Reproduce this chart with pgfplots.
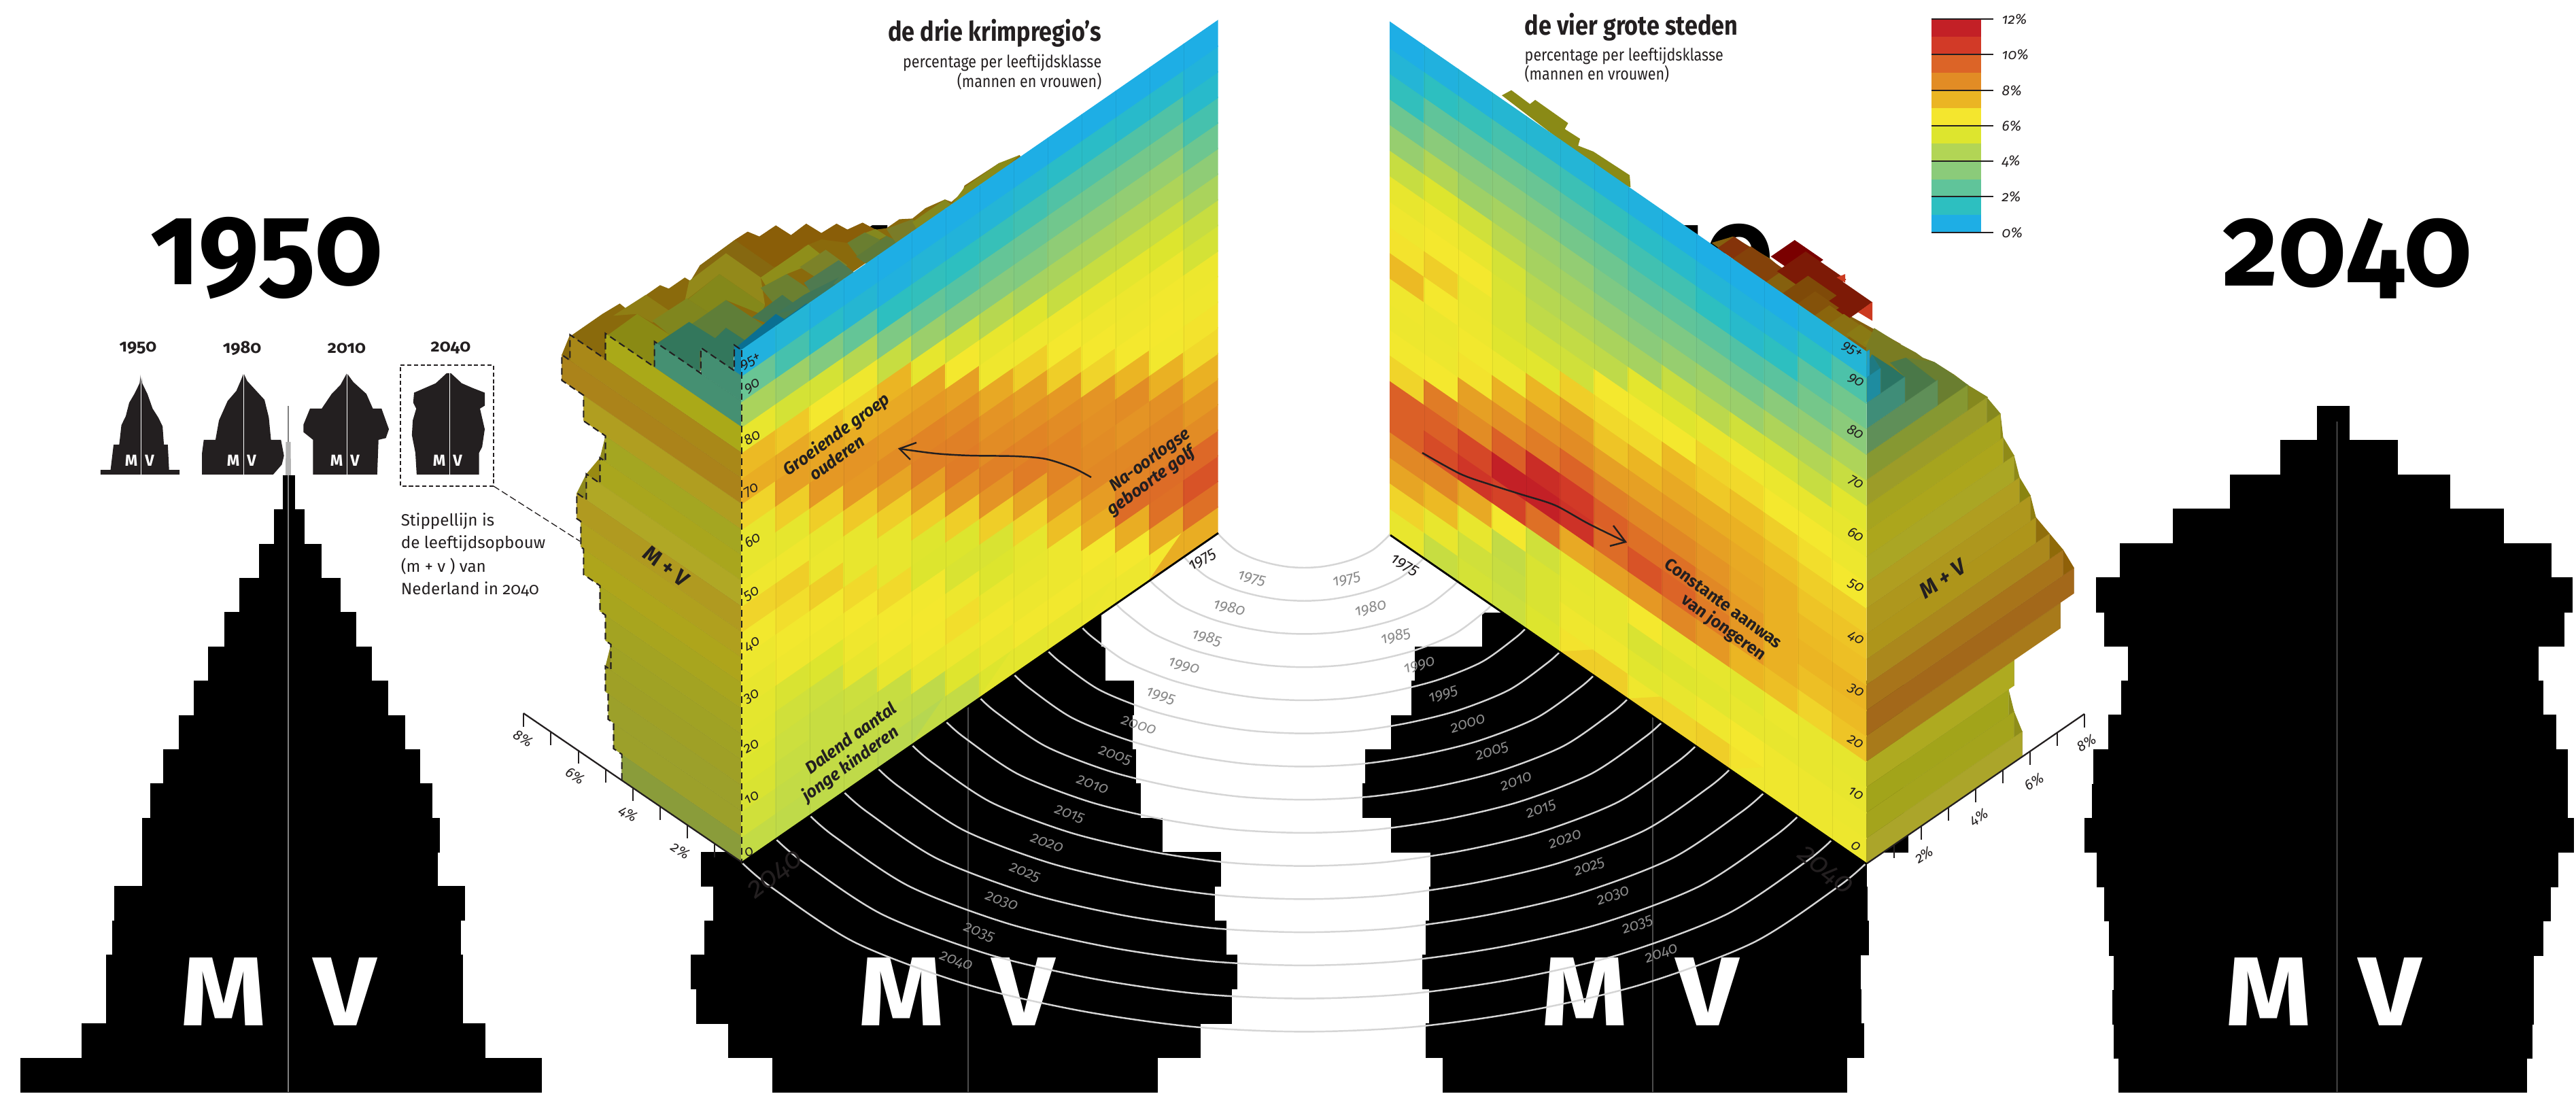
\documentclass[border=0pt]{standalone}
\usepackage{fontspec}
\setmainfont{Fira Sans}[Numbers=OldStyle]
\usepackage{pgfplots}
\usepackage{pgfplotstable}
\pgfplotsset{compat=1.18}
\definecolor{ink}{HTML}{231F20}
\definecolor{arcg}{HTML}{D5D5D5}
\definecolor{yrg}{HTML}{8A8A8A}
\newcommand\fs[1]{\fontsize{#1}{#1}\selectfont}
\pgfplotstableread{
t f
-1 0
-.95 .14
-.8 .47
-.6 .72
-.4 .875
-.2 .97
0 1
.2 .97
.4 .875
.6 .72
.8 .47
.95 .14
1 0
}\arcT
\newcommand\arcc[1]{\addplot[smooth,draw=arcg,line width=.65pt] table[x expr={1918.5+\thisrow{t}*(126.5+50*#1)},y expr={785+34.6*#1+(50+14.14*#1)*\thisrow{f}}]{\arcT};}
\newcommand\col[1]{\xglobal\definecolor{c#1}{HTML}{#1}}
\newcommand\pr[3]{\pgfmathsetmacro\yb{#1+\rh}\addplot[fill=black,draw=none] coordinates {(#2,#1)(#3,#1)(#3,\yb)(#2,\yb)};}
\def\rh{51.1}
% zoom-coordinate polygons
\newcommand\polyA[2]{\col{#1}\addplot[fill=c#1,draw=none] table[header=false,row sep=\\,x expr={800+\thisrowno{0}/1.568},y expr={\thisrowno{1}/1.96}]{#2};}
\newcommand\polyB[2]{\col{#1}\addplot[fill=c#1,draw=none] table[header=false,row sep=\\,x expr={2000+\thisrowno{0}/1.4255},y expr={\thisrowno{1}/1.96}]{#2};}
\newcommand\polyC[2]{\col{#1}\addplot[fill=c#1,draw=none] table[header=false,row sep=\\,x expr={2740+\thisrowno{0}/3},y expr={480+\thisrowno{1}/2.063}]{#2};}
\newcommand\polyS[2]{\addplot[fill=#1,draw=none] table[header=false,row sep=\\,x expr={\thisrowno{0}/1.568},y expr={250+\thisrowno{1}/1.154}]{#2};}
\newcommand\diaB[5]{\col{#1}\pgfmathsetmacro\xa{2000+#2/1.4255}\pgfmathsetmacro\ya{#3/1.96}%
\pgfmathsetmacro\xb{2000+(#2+#5)/1.4255}\pgfmathsetmacro\yyb{(#3+.95*#5)/1.96}%
\pgfmathsetmacro\xc{2000+(#2+#5-#4)/1.4255}\pgfmathsetmacro\yc{(#3+.95*#5+.95*#4)/1.96}%
\pgfmathsetmacro\xd{2000+(#2-#4)/1.4255}\pgfmathsetmacro\yd{(#3+.95*#4)/1.96}%
\addplot[fill=c#1,draw=none] coordinates {(\xa,\ya)(\xb,\yyb)(\xc,\yc)(\xd,\yd)};}
% slab bands: row, length in %, colour
\newcommand\bandL[3]{\col{#3}\pgfmathsetmacro\xo{1091-40.1*#2}\pgfmathsetmacro\yb{1268-37.65*#1}\pgfmathsetmacro\yt{\yb-37.65}%
\pgfmathsetmacro\ybo{\yb-27.5*#2}\pgfmathsetmacro\yto{\yt-27.5*#2}%
\addplot[fill=c#3,draw=c#3!88!black,line width=.12pt] coordinates {(1091,\yb)(1091,\yt)(\xo,\yto)(\xo,\ybo)};}
\newcommand\bandR[3]{\col{#3}\pgfmathsetmacro\xo{2746+40.1*#2}\pgfmathsetmacro\yb{1270-37.65*#1}\pgfmathsetmacro\yt{\yb-37.65}%
\pgfmathsetmacro\ybo{\yb-27.5*#2}\pgfmathsetmacro\yto{\yt-27.5*#2}%
\addplot[fill=c#3,draw=c#3!88!black,line width=.12pt] coordinates {(2746,\yb)(2746,\yt)(\xo,\yto)(\xo,\ybo)};}
% step triangles: lower row r, its length, length of row above, colour
\newcommand\stepL[4]{\col{#4}\pgfmathsetmacro\xu{1091-40.1*#3}\pgfmathsetmacro\xo{1091-40.1*#2}\pgfmathsetmacro\yb{1268-37.65*(#1+1)}%
\pgfmathsetmacro\ya{\yb-27.5*#3}\pgfmathsetmacro\yyt{\ya-37.65}\pgfmathsetmacro\yo{\yb-27.5*#2}%
\addplot[fill=c#4,draw=none] coordinates {(\xu,\ya)(\xu,\yyt)(\xo,\yo)};}
\newcommand\stepR[4]{\col{#4}\pgfmathsetmacro\xu{2746+40.1*#3}\pgfmathsetmacro\xo{2746+40.1*#2}\pgfmathsetmacro\yb{1270-37.65*(#1+1)}%
\pgfmathsetmacro\ya{\yb-27.5*#3}\pgfmathsetmacro\yyt{\ya-37.65}\pgfmathsetmacro\yo{\yb-27.5*#2}%
\addplot[fill=c#4,draw=none] coordinates {(\xu,\ya)(\xu,\yyt)(\xo,\yo)};}
\newcommand\yl[4]{\node[rotate=#3,text=yrg,inner sep=0] at (axis cs:#1,#2) {\fs{6}\itshape #4};}
\newcommand\al[4]{\node[rotate=#3,text=ink,inner sep=0] at (axis cs:#1,#2) {\fs{5.6}\itshape #4};}
\newcommand\tk[2]{\pgfmathsetmacro\yy{#2+20}\addplot[draw=ink,line width=.45pt] coordinates {(#1,#2)(#1,\yy)};}
\newcommand\ann[5]{\node[rotate=#3,text=ink,inner sep=0,align=center] at (axis cs:#1,#2) {\fs{#4}#5};}
\newcommand\leg[2]{\col{#2}\pgfmathsetmacro\ya{28+26.2*#1}\pgfmathsetmacro\yy{\ya+26.2}\addplot[fill=c#2,draw=none] coordinates {(2841,\ya)(2914,\ya)(2914,\yy)(2841,\yy)};}
\newcommand\legt[2]{\addplot[draw=ink,line width=.3pt] coordinates {(2841,#1)(2932,#1)};\node[anchor=west,text=ink,inner sep=0] at (axis cs:2944,#1) {\fs{5.6}\itshape #2};}
\newcommand\ttl[2]{\node[inner sep=0,text=black] at (axis cs:#1,380) {\fs{45}\bfseries\scalebox{.93}[1]{#2}};}
\newcommand\mv[2]{\node[inner sep=0,text=white] at (axis cs:#1,1459) {\fs{38}\bfseries\scalebox{1.12}[1]{#2}};}
\newcommand\smv[2]{\node[inner sep=0,text=white] at (axis cs:#1,677) {\fs{6.2}\bfseries #2};}
\newcommand\sty[2]{\node[inner sep=0,text=ink] at (axis cs:#1,512) {\fs{6.7}\bfseries #2};}
\newcommand\stp[2]{\node[anchor=west,inner sep=0,text=ink] at (axis cs:589,#1) {\fs{6.4}#2};}
\newcommand\seam[2]{\pgfmathsetmacro\yy{#2-753}\addplot[draw=black,opacity=.07,line width=.2pt] coordinates {(#1,#2)(#1,\yy)};}
\begin{document}
\begin{tikzpicture}
\useasboundingbox (0,0) rectangle (1000pt,424.65pt);
\begin{axis}[at={(0,0)},anchor=south west,scale only axis,width=1000pt,height=424.65pt,
 xmin=0,xmax=3789,ymin=0,ymax=1609,y dir=reverse,hide axis,clip=false,no markers,
 point meta min=0,point meta max=12,
 colormap={krimp}{rgb255(0pt)=(30,174,229) rgb255(5pt)=(30,174,229) rgb255(15pt)=(45,191,192) rgb255(25pt)=(96,196,154) rgb255(35pt)=(139,203,122) rgb255(45pt)=(178,213,85) rgb255(55pt)=(221,229,46) rgb255(65pt)=(244,232,46) rgb255(75pt)=(235,181,35) rgb255(85pt)=(226,140,37) rgb255(95pt)=(220,100,39) rgb255(105pt)=(210,58,39) rgb255(115pt)=(195,32,38) rgb255(120pt)=(195,32,38)}]
% big year titles
\ttl{392}{1950}\ttl{1422}{1980}\ttl{2433}{2010}\ttl{3453}{2040}
% population pyramid 1950
\pr{699}{416}{434}\pr{749}{403}{448}\pr{800}{381}{473}\pr{850}{352}{501}\pr{900}{330}{524}\pr{951}{306}{547}\pr{1001}{285}{571}\pr{1052}{263}{596}\pr{1102}{240}{618}\pr{1152}{221}{636}\pr{1203}{209}{647}\pr{1253}{209}{644}\pr{1303}{168}{684}\pr{1354}{165}{678}\pr{1404}{156}{681}\pr{1455}{156}{681}\pr{1505}{120}{714}\pr{1555.6}{30}{797}
% pyramid 1980
\pr{1555.6}{1136}{1703}\pr{1505}{1071}{1766}\pr{1455}{1024}{1812}\pr{1404}{1016}{1820}\pr{1354}{1036}{1804}\pr{1304}{1049}{1787}\pr{1253}{1031}{1796}\pr{1203}{1100}{1710}\pr{1152}{1140}{1678}\pr{1102}{1180}{1671}\pr{1052}{1190}{1666}\pr{1001}{1200}{1668}\pr{951}{1220}{1626}\pr{901}{1230}{1620}
% pyramid 2010
\pr{1555.6}{2122}{2717}\pr{1505}{2097}{2742}\pr{1455}{2102}{2738}\pr{1404}{2092}{2737}\pr{1354}{2097}{2749}\pr{1304}{2102}{2747}\pr{1253}{2104}{2746}\pr{1203}{2046}{2807}\pr{1152}{2004}{2800}\pr{1102}{2008}{2800}\pr{1052}{2046}{2800}\pr{1001}{2076}{2800}\pr{951}{2081}{2700}\pr{901}{2180}{2700}
% pyramid 2040
\pr{597}{3408}{3456}\pr{647.5}{3354}{3527}\pr{698}{3280}{3604}\pr{748.5}{3196}{3683}\pr{799}{3118}{3753}\pr{849.5}{3083}{3784}\pr{900}{3095}{3772}\pr{950.5}{3130}{3734}\pr{1001}{3120}{3741}\pr{1051.5}{3101}{3760}\pr{1102}{3079}{3777}\pr{1152.5}{3077}{3777}\pr{1203}{3066}{3786}\pr{1253.5}{3084}{3763}\pr{1304}{3095}{3752}\pr{1354.5}{3102}{3741}\pr{1405}{3109}{3727}\pr{1455.5}{3107}{3727}\pr{1506}{3109}{3725}\pr{1556}{3116}{3717}
% pyramid centre lines
\addplot[draw=gray,line width=.4pt] coordinates {(424,597)(424,1606)};
\addplot[fill=gray!60,draw=none] coordinates {(420.5,650)(427.5,650)(428,699)(420,699)};
\addplot[draw=gray!60!black,line width=.4pt] coordinates {(1424,900)(1424,1606)};
\addplot[draw=gray!60!black,line width=.4pt] coordinates {(2431,900)(2431,1606)};
\addplot[draw=gray,line width=.4pt] coordinates {(3437.5,620)(3437.5,1606)};
% M V
\mv{329}{M}\mv{507}{V}\mv{1326}{M}\mv{1505}{V}\mv{2331}{M}\mv{2511}{V}\mv{3337}{M}\mv{3515}{V}
% arcs
\arcc{0}\arcc{1}\arcc{2}\arcc{3}\arcc{4}\arcc{5}\arcc{6}\arcc{7}\arcc{8}\arcc{9}\arcc{10}\arcc{11}\arcc{12}\arcc{13}\arcc{14}
\yl{1841}{851}{-13}{1975}\yl{1808}{894}{-14}{1980}\yl{1775}{938}{-15}{1985}\yl{1741}{980}{-16}{1990}\yl{1707}{1024}{-17}{1995}\yl{1675}{1067}{-18}{2000}\yl{1640}{1112}{-19}{2005}\yl{1607}{1154}{-20}{2010}\yl{1573}{1198}{-20}{2015}\yl{1540}{1240}{-20}{2020}\yl{1507}{1284}{-20}{2025}\yl{1473}{1326}{-20}{2030}\yl{1440}{1372}{-20}{2035}\yl{1406}{1414}{-20}{2040}
\yl{1981}{853}{13}{1975}\yl{2016}{895}{14}{1980}\yl{2053}{936}{15}{1985}\yl{2088}{979}{16}{1990}\yl{2123}{1022}{17}{1995}\yl{2159}{1064}{18}{2000}\yl{2195}{1106}{19}{2005}\yl{2230}{1149}{20}{2010}\yl{2267}{1191}{20}{2015}\yl{2302}{1234}{20}{2020}\yl{2338}{1276}{20}{2025}\yl{2373}{1318}{20}{2030}\yl{2409}{1361}{20}{2035}\yl{2444}{1403}{20}{2040}
\node[rotate=38,inner sep=0,text=ink] at (axis cs:1141,1287) {\fs{11}\itshape 2040};
\node[rotate=-38,inner sep=0,text=ink] at (axis cs:2684,1281) {\fs{11}\itshape 2040};
% left tops behind the face
\polyA{8A6A0C}{60 970\\135 905\\175 875\\190 890\\268 822\\288 832\\325 800\\338 810\\360 765\\440 692\\470 668\\497 682\\535 650\\570 678\\605 645\\640 672\\675 645\\700 662\\735 642\\765 662\\790 658\\820 632\\850 630\\880 600\\925 575\\940 582\\965 555\\970 535\\1050 470\\1060 475\\1097 447\\1100 452\\600 880\\458 1020\\300 1100\\60 1045\\}
\polyA{8A5E08}{440 692\\470 668\\497 682\\535 650\\570 678\\605 645\\640 672\\675 645\\700 662\\735 642\\765 662\\740 680\\700 700\\640 690\\600 710\\560 760\\530 770\\}
\polyA{8F7E14}{160 910\\235 850\\300 905\\250 930\\215 905\\}
\polyA{866810}{360 765\\440 692\\530 770\\500 800\\420 730\\340 808\\}
\polyA{93891A}{335 810\\420 730\\500 800\\510 880\\405 790\\325 868\\}
\polyA{84881A}{325 870\\405 790\\510 880\\500 905\\420 865\\415 930\\330 860\\}
\polyA{80861E}{250 925\\330 860\\415 930\\340 935\\290 965\\}
\polyA{8A8A14}{143 970\\215 905\\290 965\\255 995\\255 1070\\143 1045\\}
\polyA{5F7E38}{340 935\\420 865\\510 940\\475 990\\420 945\\395 975\\}
\polyA{33775C}{255 995\\335 928\\395 975\\420 945\\475 990\\438 1005\\438 1085\\360 1012\\360 1085\\255 1070\\}
\polyA{8F8E1A}{500 800\\610 705\\650 745\\560 790\\515 830\\}
\polyA{7C8228}{590 770\\650 720\\700 765\\640 810\\}
\polyA{6C8030}{500 830\\560 790\\625 845\\550 905\\}
\polyA{45764F}{480 915\\550 850\\610 905\\540 945\\}
\polyA{4F7A50}{600 815\\680 750\\740 810\\660 880\\620 850\\}
\polyA{3F7658}{580 875\\660 815\\700 830\\640 890\\600 885\\}
\polyA{85881E}{740 672\\765 660\\790 680\\750 705\\}
\polyA{6A7E30}{700 700\\740 670\\790 700\\730 750\\}
\polyA{5F7A38}{720 740\\790 680\\825 700\\760 775\\}
\polyA{7A7C28}{790 660\\850 632\\880 660\\820 715\\}
\polyA{85881E}{850 640\\925 575\\940 590\\865 670\\}
\polyA{8A8A18}{940 590\\970 540\\1050 470\\1097 447\\960 600\\}
\polyA{3F7658}{535 905\\600 850\\680 800\\620 880\\}
\polyA{0A6F92}{440 1005\\535 905\\555 920\\605 875\\620 880\\458 1022\\}
% left slab
\bandL{0}{4.4}{8A9C3A}\bandL{1}{4.7}{9CA02A}\bandL{2}{4.9}{9CA02A}\bandL{3}{5.0}{9FA026}\bandL{4}{4.8}{A0A224}\bandL{5}{5.0}{A3A322}\bandL{6}{5.2}{A8A51E}\bandL{7}{5.8}{AEA51B}\bandL{8}{5.9}{B0A01E}\bandL{9}{6.05}{B09A20}\bandL{10}{5.7}{B0A825}\bandL{11}{5.2}{A9A61D}\bandL{12}{5.0}{A4A621}\bandL{13}{5.8}{B09E20}\bandL{14}{6.6}{AB831A}\bandL{15}{6.3}{A98818}\bandL{16}{5.0}{AAA918}\bandL{17}{3.2}{459072}\bandL{18}{1.5}{448F72}\bandL{19}{.27}{0E86AE}
\stepL{3}{5.0}{4.8}{8F8A1C}\stepL{9}{6.05}{5.7}{8F8A1C}\stepL{10}{5.7}{5.2}{998A12}\stepL{11}{5.2}{5.0}{8F8A1C}\stepL{14}{6.6}{6.3}{8A6A0C}
% dashed Netherlands profile
\addplot[draw=ink,line width=.55pt,dash pattern=on 2.6pt off 1.6pt] table[x expr={1091-40.1*\thisrow{L}},y expr={1268-37.65*\thisrow{b}-27.5*\thisrow{L}},row sep=\\]{b L\\0 4.4\\1 4.4\\1 4.7\\2 4.7\\2 4.9\\3 4.9\\3 5.0\\4 5.0\\4 4.8\\5 4.8\\5 5.0\\6 5.0\\6 5.2\\7 5.2\\7 5.8\\8 5.8\\8 5.9\\9 5.9\\9 6.05\\10 6.05\\10 5.7\\11 5.7\\11 5.2\\12 5.2\\12 5.0\\13 5.0\\13 5.8\\14 5.8\\14 6.6\\15 6.6\\15 6.3\\16 6.3\\16 5.0\\17 5.0\\17 3.2\\18 3.2\\18 1.5\\19 1.5\\19 .27\\20 .27\\20 0\\};
% right tops
\polyB{8A8A16}{298 275\\318 260\\357 300\\368 288\\437 355\\430 372\\462 400\\458 420\\490 437\\566 505\\568 540\\540 530\\}
\polyB{85600E}{738 700\\782 682\\860 745\\950 850\\1020 905\\1100 965\\1135 992\\1063 1030\\}
\diaB{84330A}{785}{682}{35}{50}\diaB{84420A}{820}{710}{45}{70}\diaB{7A0000}{912}{692}{50}{60}\diaB{7D1A06}{935}{725}{60}{85}
\polyB{CC3A20}{1018 790\\1018 815\\1000 800\\}
\diaB{7D1A06}{1005}{805}{50}{70}
\polyB{CC3A20}{1075 870\\1075 925\\1045 900\\}
\diaB{7F4A08}{940}{795}{60}{60}\diaB{84520A}{955}{840}{50}{50}\diaB{8A650C}{985}{880}{45}{45}\diaB{8A7012}{1015}{905}{35}{40}\diaB{8A7A14}{1050}{935}{30}{40}\diaB{8A8016}{1085}{960}{30}{45}
\polyC{7A7C22}{50 5\\120 35\\155 50\\235 80\\265 95\\315 108\\400 145\\468 180\\552 215\\468 258\\328 245\\188 232\\80 205\\15 230\\15 60\\}
\polyC{85881E}{400 145\\468 180\\552 215\\468 258\\}
\polyC{6A7E30}{190 95\\315 108\\468 180\\328 245\\328 168\\}
\polyC{4A7848}{120 110\\190 95\\328 168\\188 232\\188 155\\}
\polyC{2A7464}{40 85\\130 125\\188 155\\80 205\\80 130\\}
\polyC{1F7A82}{15 120\\40 85\\80 130\\15 160\\}
% right slab
\bandR{0}{5.7}{ABA52A}\bandR{1}{5.4}{A4A41C}\bandR{2}{5.2}{A2A41A}\bandR{3}{5.4}{AEAA20}\bandR{4}{7.1}{A87A1A}\bandR{5}{7.6}{A3681A}\bandR{6}{7.2}{A8741A}\bandR{7}{6.7}{AB881C}\bandR{8}{6.2}{AE951A}\bandR{9}{6.0}{AE971D}\bandR{10}{5.6}{B09E20}\bandR{11}{5.4}{AAA624}\bandR{12}{5.0}{ACA61C}\bandR{13}{4.9}{A6A41E}\bandR{14}{4.4}{9C9C28}\bandR{15}{3.7}{869832}\bandR{16}{2.6}{5F8F58}\bandR{17}{1.4}{3F8D78}\bandR{18}{.5}{1E8CA0}\bandR{19}{.1}{1E9FC8}
\stepR{0}{5.7}{5.4}{8F8E1A}\stepR{1}{5.4}{5.2}{8F8E1A}\stepR{5}{7.6}{7.2}{8F6008}\stepR{6}{7.2}{6.7}{8F6A08}\stepR{7}{6.7}{6.2}{906E0C}\stepR{8}{6.2}{6.0}{8F7E10}\stepR{9}{6.0}{5.6}{8A8410}\stepR{10}{5.6}{5.4}{8F8A18}\stepR{11}{5.4}{5.0}{8F8A18}\stepR{12}{5.0}{4.9}{8F8A18}\stepR{13}{4.9}{4.4}{85881E}
% left heat face: vertices of a 14 x 20 lattice; each vertex carries the value of the cell above-right of it (columns 2040 ... 1975, rows age 0 ... 95+); last value of each line and the last line close the lattice
\addplot[surf,shader=flat corner,mesh/rows=15,mesh/cols=21,point meta=explicit] table[header=false,row sep=\\,
 x expr={1091+50*floor(\coordindex/21)},
 y expr={1268-34.6*floor(\coordindex/21)-37.65*mod(\coordindex,21)},
 meta expr={\thisrowno{0}}]{
4.9\\5.2\\5.4\\5.5\\5.7\\5.8\\6.0\\6.2\\6.4\\6.9\\6.3\\6.0\\6.0\\6.9\\7.7\\7.4\\6.0\\4.3\\2.7\\0.7\\0\\
4.8\\4.9\\5.0\\5.1\\5.2\\5.4\\6.3\\6.4\\6.7\\7.0\\6.3\\5.9\\7.0\\8.0\\7.8\\7.1\\5.3\\4.0\\2.0\\0.9\\0\\
4.8\\4.9\\5.0\\5.0\\5.1\\5.5\\6.3\\6.4\\7.0\\6.1\\6.0\\7.0\\8.2\\7.9\\7.3\\6.5\\5.3\\3.3\\1.3\\0.7\\0\\
4.8\\4.9\\5.0\\5.1\\6.0\\6.3\\6.5\\6.8\\6.0\\6.0\\7.1\\8.2\\8.3\\7.7\\6.9\\6.3\\4.6\\2.6\\1.0\\0.6\\0\\
4.7\\4.9\\5.0\\6.0\\6.4\\6.5\\6.8\\6.0\\6.0\\7.0\\7.9\\8.5\\8.2\\7.8\\7.5\\5.0\\3.2\\1.5\\0.7\\0.5\\0\\
4.6\\4.8\\6.0\\6.4\\6.5\\6.4\\5.5\\5.6\\7.0\\8.0\\8.8\\8.7\\8.2\\7.9\\5.9\\3.9\\2.6\\1.6\\0.9\\0.5\\0\\
4.9\\5.6\\6.2\\6.7\\6.2\\5.4\\5.5\\7.0\\8.3\\8.9\\8.8\\8.5\\8.0\\6.5\\5.2\\3.4\\2.3\\1.5\\0.8\\0.5\\0\\
5.5\\6.1\\6.4\\6.1\\5.5\\5.4\\7.0\\8.3\\8.8\\8.5\\8.3\\7.8\\6.3\\6.0\\4.6\\3.4\\2.6\\1.7\\0.9\\0.5\\0\\
5.8\\6.4\\6.2\\6.0\\5.9\\6.9\\7.9\\8.9\\8.7\\8.4\\8.0\\7.0\\6.3\\5.6\\4.2\\3.3\\2.7\\1.9\\1.1\\0.5\\0\\
6.0\\6.4\\6.2\\6.2\\7.3\\8.1\\8.7\\8.7\\8.5\\8.2\\7.0\\6.5\\6.2\\5.0\\4.3\\3.6\\2.9\\2.2\\1.3\\0.5\\0\\
6.1\\6.3\\6.5\\7.7\\8.1\\8.6\\8.5\\8.4\\8.3\\6.9\\6.5\\6.3\\5.9\\5.0\\4.3\\3.6\\2.9\\2.2\\1.3\\0.5\\0\\
6.2\\6.5\\7.7\\9.3\\8.7\\8.6\\8.3\\8.5\\7.5\\6.5\\6.3\\6.2\\5.8\\5.0\\4.4\\3.7\\3.0\\2.2\\1.2\\0.5\\0\\
6.5\\7.8\\9.2\\9.3\\8.8\\8.6\\8.4\\7.6\\6.4\\6.5\\6.4\\6.2\\5.5\\5.0\\4.4\\3.8\\3.0\\2.2\\1.2\\0.5\\0\\
7.7\\9.2\\9.9\\9.4\\8.5\\8.2\\7.6\\6.8\\6.6\\6.3\\6.2\\5.3\\5.0\\4.3\\3.6\\2.8\\2.0\\1.2\\0.8\\0.4\\0\\
0\\0\\0\\0\\0\\0\\0\\0\\0\\0\\0\\0\\0\\0\\0\\0\\0\\0\\0\\0\\0\\
};
% right heat face (columns 1975 ... 2040)
\addplot[surf,shader=flat corner,mesh/rows=15,mesh/cols=21,point meta=explicit] table[header=false,row sep=\\,
 x expr={2045+50*floor(\coordindex/21)},
 y expr={786+34.6*floor(\coordindex/21)-37.65*mod(\coordindex,21)},
 meta expr={\thisrowno{0}}]{
6.0\\6.9\\7.9\\8.6\\9.6\\9.6\\6.9\\6.4\\6.2\\6.3\\7.4\\6.6\\6.3\\6.0\\5.0\\3.8\\2.8\\1.6\\0.9\\0.5\\0\\
5.0\\6.0\\7.4\\8.6\\10.1\\9.6\\8.9\\6.5\\6.2\\6.1\\6.5\\7.0\\6.5\\6.3\\5.5\\4.5\\3.5\\2.5\\1.5\\0.7\\0\\
5.3\\5.2\\6.0\\7.8\\10.7\\10.2\\8.5\\8.0\\6.6\\6.4\\6.2\\6.1\\6.5\\6.0\\5.2\\4.0\\3.4\\2.6\\1.7\\0.8\\0\\
5.1\\5.0\\4.9\\6.5\\10.3\\11.6\\9.6\\8.4\\7.6\\6.2\\5.6\\5.4\\5.4\\5.3\\4.7\\4.2\\3.5\\2.8\\2.0\\1.0\\0\\
5.5\\5.4\\5.4\\5.2\\9.2\\11.5\\11.0\\8.9\\8.3\\7.5\\5.7\\5.2\\4.8\\4.6\\4.2\\3.9\\3.3\\2.7\\2.0\\1.0\\0\\
6.6\\6.3\\6.0\\5.9\\7.8\\10.8\\10.5\\9.5\\8.5\\8.0\\7.0\\5.2\\4.9\\4.5\\4.1\\3.7\\3.0\\2.4\\1.8\\0.9\\0\\
7.0\\6.3\\6.0\\6.0\\8.0\\9.3\\9.6\\8.8\\8.0\\7.2\\6.8\\6.5\\4.8\\4.3\\3.7\\3.2\\2.8\\2.2\\1.6\\0.8\\0\\
6.3\\5.7\\5.4\\6.5\\8.2\\9.9\\9.2\\8.6\\8.0\\7.5\\6.8\\6.4\\5.8\\4.2\\3.5\\3.1\\2.4\\1.9\\1.3\\0.7\\0\\
6.9\\6.0\\5.6\\6.0\\8.6\\9.5\\9.2\\8.6\\8.2\\7.8\\7.4\\6.5\\5.6\\5.0\\3.8\\3.2\\2.5\\1.9\\1.2\\0.6\\0\\
7.0\\6.3\\5.7\\5.9\\8.2\\8.9\\8.6\\8.3\\8.0\\7.7\\7.1\\6.9\\6.0\\4.7\\4.0\\3.1\\2.4\\1.5\\0.9\\0.5\\0\\
6.6\\6.5\\6.0\\5.7\\7.5\\8.2\\8.1\\7.9\\7.8\\7.6\\7.3\\6.8\\6.3\\5.2\\3.9\\3.0\\2.2\\1.2\\0.8\\0.5\\0\\
6.3\\6.3\\6.0\\6.1\\7.3\\7.6\\7.6\\7.6\\7.6\\7.3\\7.0\\6.5\\6.1\\5.3\\4.4\\3.5\\2.4\\1.5\\0.9\\0.5\\0\\
6.2\\6.2\\6.0\\6.0\\6.9\\7.3\\7.5\\7.4\\7.2\\7.0\\6.7\\6.5\\6.0\\5.0\\4.5\\3.7\\3.0\\2.4\\1.5\\0.8\\0\\
6.2\\6.1\\6.0\\5.9\\7.2\\7.4\\7.5\\7.3\\7.2\\7.0\\6.5\\6.2\\6.0\\5.7\\5.0\\4.4\\3.5\\2.9\\2.1\\0.9\\0\\
0\\0\\0\\0\\0\\0\\0\\0\\0\\0\\0\\0\\0\\0\\0\\0\\0\\0\\0\\0\\0\\
};
% faint column seams
\seam{1141}{1234}\seam{1191}{1199}\seam{1241}{1164}\seam{1291}{1130}\seam{1341}{1095}\seam{1391}{1061}\seam{1441}{1026}\seam{1491}{991}\seam{1541}{957}\seam{1591}{922}\seam{1641}{888}\seam{1691}{853}\seam{1741}{818}
\seam{2095}{821}\seam{2145}{855}\seam{2195}{890}\seam{2245}{924}\seam{2295}{959}\seam{2345}{994}\seam{2395}{1028}\seam{2445}{1063}\seam{2495}{1097}\seam{2545}{1132}\seam{2595}{1167}\seam{2645}{1201}\seam{2695}{1236}
% axes of the faces and slabs
\addplot[draw=black,line width=.75pt] coordinates {(1091,1269)(1792,784)};
\addplot[draw=black,line width=.75pt] coordinates {(2045,787)(2746,1271)};
\addplot[draw=ink,line width=.55pt,dash pattern=on 2.6pt off 1.6pt] coordinates {(1091,515)(1091,1268)};
\addplot[draw=ink,line width=.6pt] coordinates {(1091,1268)(770,1049)};
\addplot[draw=ink,line width=.6pt] coordinates {(2746,1270)(3066,1050)};
\tk{1051}{1241}\tk{1011}{1213}\tk{971}{1186}\tk{931}{1158}\tk{891}{1131}\tk{851}{1103}\tk{810}{1076}\tk{770}{1049}
\tk{2786}{1242}\tk{2826}{1215}\tk{2866}{1187}\tk{2906}{1160}\tk{2946}{1132}\tk{2986}{1105}\tk{3026}{1077}\tk{3066}{1050}
\al{770}{1086}{-32}{8\%}\al{846}{1141}{-32}{6\%}\al{924}{1197}{-32}{4\%}\al{1001}{1251}{-32}{2\%}
\al{3069}{1093}{32}{8\%}\al{2992}{1150}{32}{6\%}\al{2911}{1202}{32}{4\%}\al{2830}{1257}{32}{2\%}
% age labels
\al{1105}{532}{30}{95+}\al{1107}{568}{30}{90}\al{1107}{643}{30}{80}\al{1106}{721}{30}{70}\al{1107}{794}{30}{60}\al{1106}{874}{30}{50}\al{1107}{948}{30}{40}\al{1106}{1025}{30}{30}\al{1106}{1098}{30}{20}\al{1106}{1173}{30}{10}\al{1102}{1253}{30}{0}
\al{2724}{515}{-30}{95+}\al{2730}{560}{-30}{90}\al{2730}{635}{-30}{80}\al{2730}{710}{-30}{70}\al{2730}{786}{-30}{60}\al{2730}{862}{-30}{50}\al{2730}{939}{-30}{40}\al{2730}{1016}{-30}{30}\al{2730}{1091}{-30}{20}\al{2730}{1167}{-30}{10}\al{2730}{1245}{-30}{0}
\node[rotate=30,text=ink,inner sep=0] at (axis cs:1769,824) {\fs{6.2}\itshape 1975};
\node[rotate=-30,text=ink,inner sep=0] at (axis cs:2066,832) {\fs{6.2}\itshape 1975};
% annotations
\ann{1231}{640}{36}{6.6}{\itshape\bfseries Groeiende groep}
\ann{1231}{673}{36}{6.6}{\itshape\bfseries ouderen}
\ann{1692}{677}{36}{6.6}{\itshape\bfseries Na-oorlogse}
\ann{1694}{708}{36}{6.6}{\itshape\bfseries geboorte golf}
\ann{1251}{1085}{36}{6.6}{\itshape\bfseries Dalend aantal}
\ann{1251}{1124}{36}{6.6}{\itshape\bfseries jonge kinderen}
\ann{2535}{887}{-36}{6.6}{\bfseries Constante aanwas}
\ann{2535}{923}{-36}{6.6}{\bfseries van jongeren}
\ann{980}{833}{-38}{8.5}{\bfseries M + V}
\ann{2857}{851}{34}{8.5}{\bfseries\itshape M + V}
% arrows
\addplot[smooth,draw=ink,line width=.65pt] coordinates {(1605,702)(1578,688)(1538,675)(1493,671)(1426,670)(1376,667)(1323,660)};
\addplot[draw=ink,line width=.65pt] coordinates {(1348,651)(1323,660)(1339,676)};
\addplot[smooth,draw=ink,line width=.65pt] coordinates {(2092,666)(2148,697)(2193,713)(2237,727)(2287,743)(2336,770)(2391,797)};
\addplot[draw=ink,line width=.65pt] coordinates {(2373,773)(2391,797)(2368,803)};
% headings
\node[anchor=east,text=ink,inner sep=0] at (axis cs:1621,49) {\fs{10.5}\bfseries\scalebox{.86}[1]{de drie krimpregio’s}};
\node[anchor=east,text=ink,inner sep=0] at (axis cs:1621,92) {\fs{6.6}\scalebox{.86}[1]{percentage per leeftijdsklasse}};
\node[anchor=east,text=ink,inner sep=0] at (axis cs:1621,120) {\fs{6.6}\scalebox{.86}[1]{(mannen en vrouwen)}};
\node[anchor=west,text=ink,inner sep=0] at (axis cs:2242,40) {\fs{10.5}\bfseries\scalebox{.86}[1]{de vier grote steden}};
\node[anchor=west,text=ink,inner sep=0] at (axis cs:2242,82) {\fs{6.6}\scalebox{.86}[1]{percentage per leeftijdsklasse}};
\node[anchor=west,text=ink,inner sep=0] at (axis cs:2242,109) {\fs{6.6}\scalebox{.86}[1]{(mannen en vrouwen)}};
% legend
\leg{0}{C32026}\leg{1}{D23A27}\leg{2}{DC6427}\leg{3}{E28C25}\leg{4}{EBB523}\leg{5}{F4E62E}\leg{6}{DDE52E}\leg{7}{B2D555}\leg{8}{8BCB7A}\leg{9}{60C49A}\leg{10}{2DBFC0}\leg{11}{1EAEE5}
\legt{28}{12\%}\legt{80}{10\%}\legt{133}{8\%}\legt{185}{6\%}\legt{237}{4\%}\legt{289}{2\%}\legt{342}{0\%}
% small pyramids
\polyS{ink}{232 517\\232 509\\255 509\\262 466\\275 466\\280 433\\290 418\\298 395\\310 380\\322 362\\325 345\\328 362\\340 380\\352 405\\365 420\\375 435\\378 466\\387 466\\390 509\\414 509\\414 517\\}
\polyS{ink}{466 517\\466 480\\470 458\\497 458\\505 425\\525 392\\545 375\\555 358\\562 345\\570 358\\585 370\\610 390\\620 420\\625 458\\648 458\\655 485\\650 500\\630 517\\}
\polyS{ink}{722 517\\722 458\\700 445\\700 432\\715 405\\742 405\\765 380\\785 365\\800 345\\815 360\\845 380\\860 405\\880 405\\897 440\\890 455\\873 458\\870 517\\}
\polyS{ink}{961 517\\958 480\\950 450\\952 425\\960 405\\953 395\\955 378\\980 370\\1005 362\\1030 345\\1040 345\\1065 362\\1090 370\\1118 378\\1118 400\\1107 405\\1118 440\\1112 470\\1105 480\\1105 517\\}
\addplot[draw=white,line width=.25pt] coordinates {(207.5,548)(207.5,698)};
\addplot[draw=white,line width=.25pt] coordinates {(358.5,548)(358.5,698)};
\addplot[draw=white,line width=.25pt] coordinates {(510,548)(510,698)};
\addplot[draw=white,line width=.25pt] coordinates {(661,548)(661,698)};
\smv{193}{M}\smv{220}{V}\smv{343}{M}\smv{370}{V}\smv{495}{M}\smv{522}{V}\smv{646}{M}\smv{673}{V}
\sty{203}{1950}\sty{356}{1980}\sty{510}{2010}\sty{663}{2040}
\addplot[draw=ink,line width=.35pt,dash pattern=on 1.6pt off 1pt] coordinates {(589,537)(726,537)(726,715)(589,715)(589,537)};
\addplot[draw=ink,line width=.35pt,dash pattern=on 2.6pt off 1.2pt] coordinates {(726,715)(853,796)};
\stp{767}{Stippellijn is}\stp{800}{de leeftijdsopbouw}\stp{833}{(m + v ) van}\stp{866}{Nederland in 2040}
\end{axis}
\end{tikzpicture}
\end{document}
